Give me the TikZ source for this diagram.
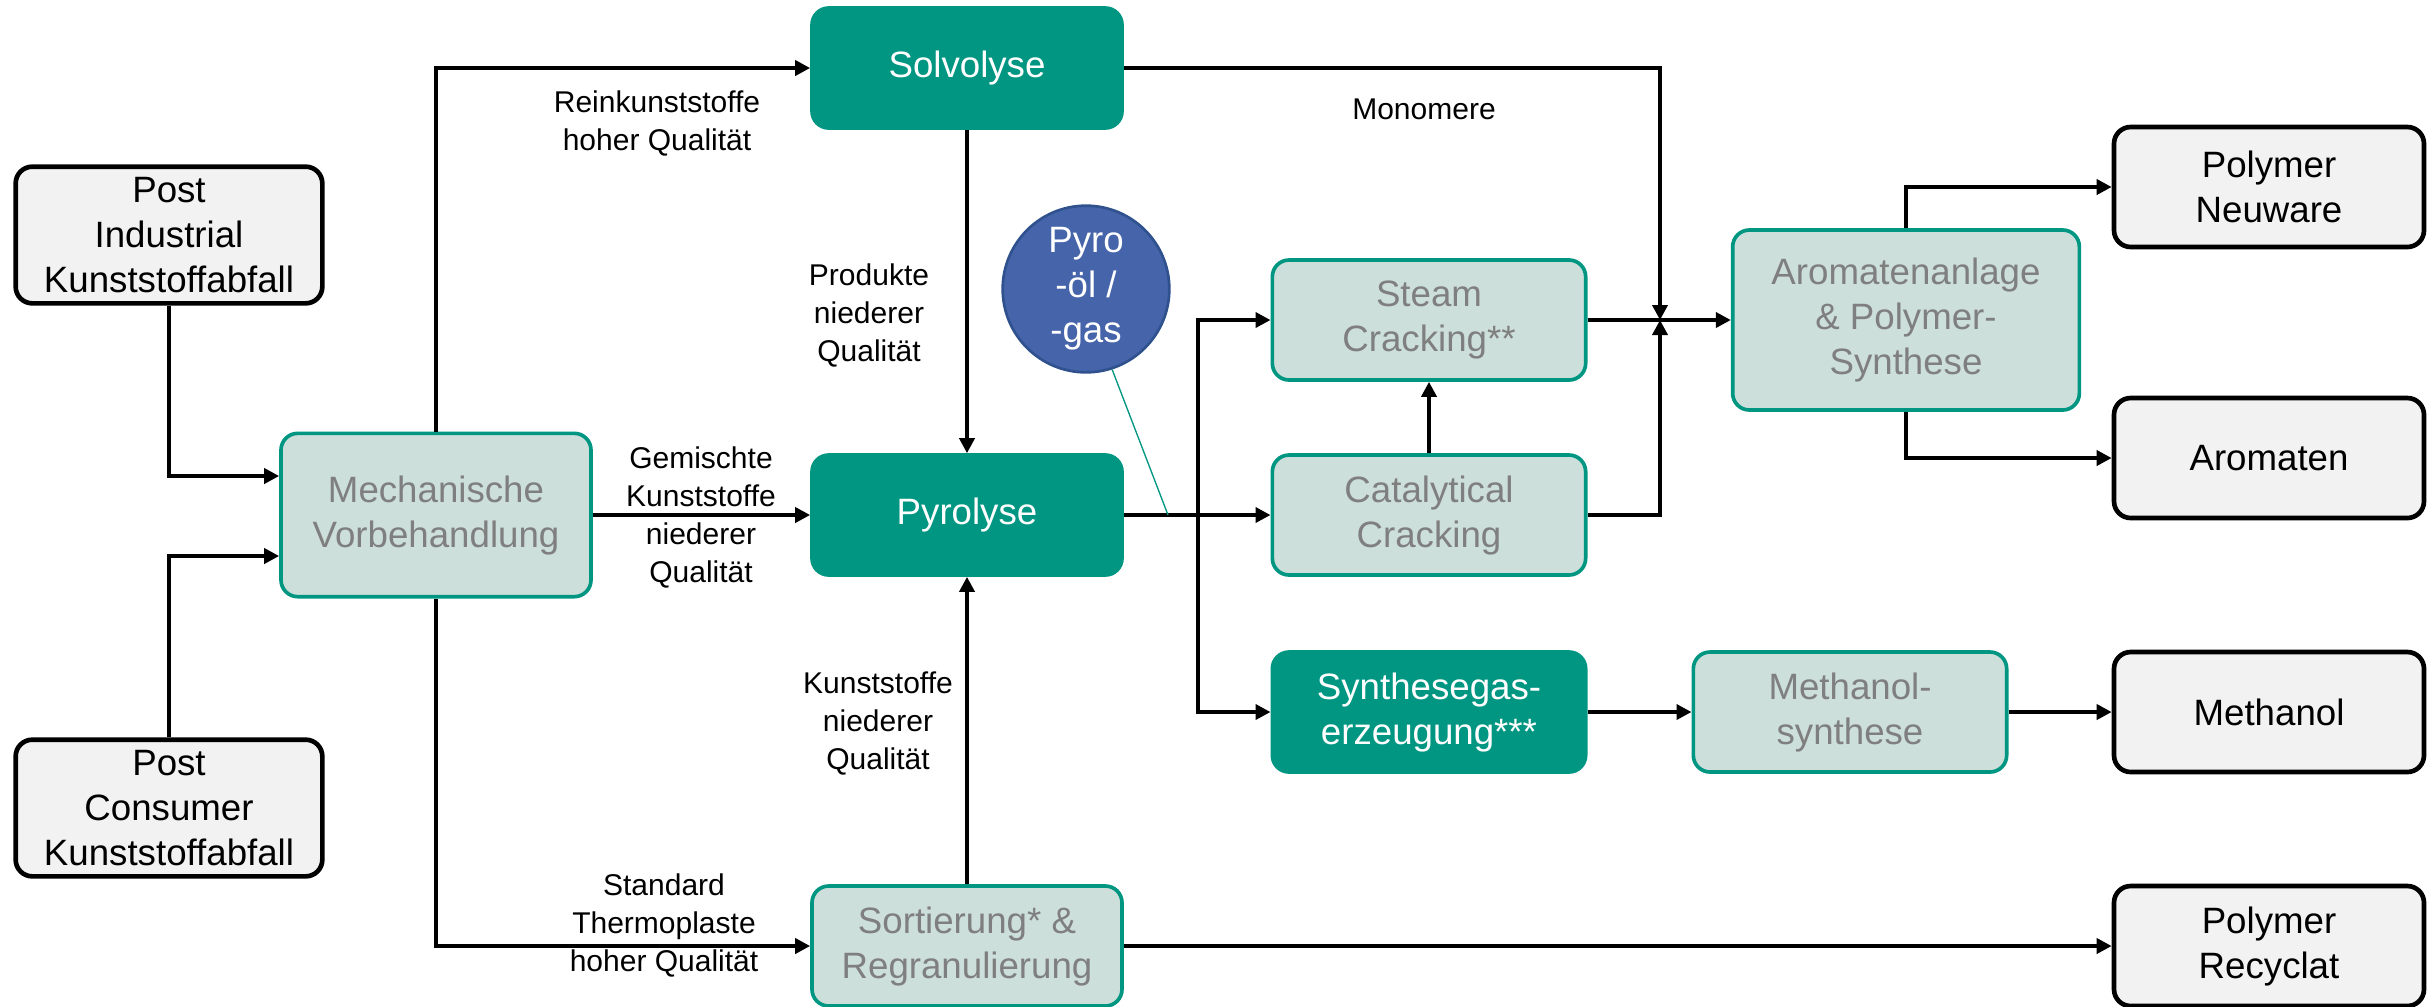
\documentclass[tikz,border=0pt]{standalone}
\usepackage{fontspec}
\setmainfont{Liberation Sans}
\usetikzlibrary{arrows.meta}

\definecolor{petrol}{RGB}{0,150,130}
\definecolor{mint}{RGB}{204,223,218}
\definecolor{greytext}{RGB}{127,127,127}
\definecolor{pale}{RGB}{242,242,242}
\definecolor{bluefill}{RGB}{70,100,170}
\definecolor{blueline}{RGB}{47,82,143}

\tikzset{
    >={Triangle[length=4.5pt,width=4.5pt]},
    boxtext/.style={align=center,inner sep=0pt,font=\fontsize{11}{13.5}\selectfont},
    greybox/.style={boxtext,draw=black,line width=1.4pt,fill=pale,rounded corners=5pt,minimum width=93pt,minimum height=36pt},
    mintbox/.style={boxtext,draw=petrol,line width=1.1pt,fill=mint,text=greytext,rounded corners=5pt,minimum width=94pt,minimum height=36pt},
    darkbox/.style={boxtext,draw=petrol,line width=1.1pt,fill=petrol,text=white,rounded corners=5pt,minimum width=94pt,minimum height=36pt},
    flow/.style={line width=1.1pt,->},
    joint/.style={line width=1.1pt},
    lbl/.style={align=center,inner sep=0pt,font=\fontsize{9}{11.4}\selectfont},
}

\begin{document}
\begin{tikzpicture}[x=0.3pt,y=-0.3pt]
        \useasboundingbox (0,0) rectangle (2433,1006);

        % sources
        \node[greybox,minimum width=92pt,minimum height=41pt] (PI) at (169,235) {Post\\Industrial\\Kunststoffabfall};
        \node[greybox,minimum width=92pt,minimum height=41pt] (PC) at (169,808) {Post\\Consumer\\Kunststoffabfall};

        % processes
        \node[mintbox,minimum width=93pt,minimum height=49pt] (MV) at (436,515) {Mechanische\\Vorbehandlung};
        \node[darkbox,minimum width=93pt] (SO) at (967,68) {Solvolyse};
        \node[darkbox,minimum width=93pt] (PY) at (967,515) {Pyrolyse};
        \node[mintbox,minimum width=93pt] (SR) at (967,946) {Sortierung* \&\\Regranulierung};
        \node[mintbox] (SC) at (1429,320) {Steam\\Cracking**};
        \node[mintbox] (CC) at (1429,515) {Catalytical\\Cracking};
        \node[darkbox] (SG) at (1429,712) {Synthesegas-\\erzeugung***};
        \node[mintbox,minimum width=104pt,minimum height=54pt] (AP) at (1906,320) {Aromatenanlage\\\& Polymer-\\Synthese};
        \node[mintbox] (MS) at (1850,712) {Methanol-\\synthese};
        \node[boxtext,circle,draw=blueline,line width=0.8pt,fill=bluefill,text=white,minimum size=50pt] (PG) at (1086,289) {Pyro\\-öl /\\-gas};

        % products
        \node[greybox] (PN) at (2269,187) {Polymer\\Neuware};
        \node[greybox] (AR) at (2269,458) {Aromaten};
        \node[greybox] (ME) at (2269,712) {Methanol};
        \node[greybox] (PR) at (2269,946) {Polymer\\Recyclat};

        % labels
        \node[lbl] (L1) at (657,123) {Reinkunststoffe\\hoher Qualität};
        \node[lbl] (L2) at (1424,109) {Monomere};
        \node[lbl] (L3) at (869,315) {Produkte\\niederer\\Qualität};
        \node[lbl] (L4) at (701,517) {Gemischte\\Kunststoffe\\niederer\\Qualität};
        \node[lbl] (L5) at (878,723) {Kunststoffe\\niederer\\Qualität};
        \node[lbl] (L6) at (664,925) {Standard\\Thermoplaste\\hoher Qualität};

        \coordinate (J) at (1660,320);
        \coordinate (B) at (1198,515);
        \coordinate (K) at (1168,515);

        \draw[flow] (PI.south) |- ([yshift=11.7pt]MV.west);
        \draw[flow] (PC.north) |- ([yshift=-12.3pt]MV.west);
        \draw[flow] (MV.north) |- (SO.west);
        \draw[flow] (MV.east) -- (PY.west);
        \draw[flow] (MV.south) |- (SR.west);
        \draw[flow] (SO.south) -- (PY.north);
        \draw[flow] (SR.north) -- (PY.south);
        \draw[flow] (SO.east) -| (J);
        \draw[flow] (CC.east) -| (J);
        \draw[flow] (CC.north) -- (SC.south);
        \draw[flow] (SC.east) -- (AP.west);
        \draw[flow] (PY.east) -- (CC.west);
        \draw[flow] (B) |- (SC.west);
        \draw[flow] (B) |- (SG.west);
        \draw[flow] (SG.east) -- (MS.west);
        \draw[flow] (MS.east) -- (ME.west);
        \draw[flow] (AP.north) |- (PN.west);
        \draw[flow] (AP.south) |- (AR.west);
        \draw[flow] (SR.east) -- (PR.west);
        \draw[petrol,line width=0.4pt] (PG.-72) -- (K);
    \end{tikzpicture}
\end{document}
